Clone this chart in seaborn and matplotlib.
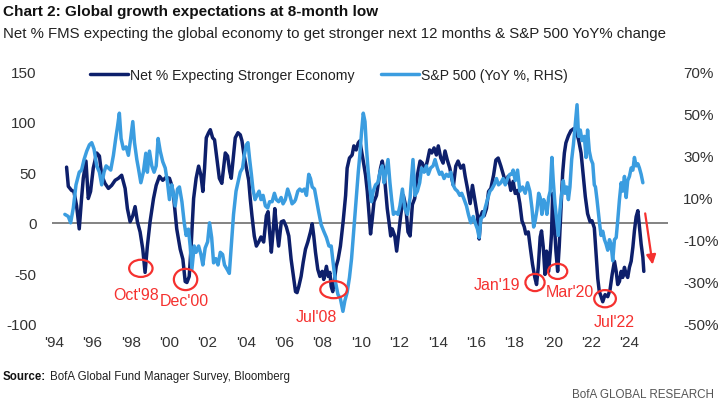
import pandas as pd
import matplotlib
matplotlib.use('Agg')
import matplotlib.pyplot as plt
import seaborn as sns
from matplotlib.patches import Ellipse

# Net % of FMS expecting a stronger global economy (left axis)
net_years = [1994.66, 1994.75, 1994.92, 1995.04, 1995.18, 1995.32, 1995.44, 1995.53, 1995.67, 1995.79,
             1995.91, 1996.05, 1996.23, 1996.37, 1996.49, 1996.66, 1996.84, 1997.01, 1997.19, 1997.36,
             1997.53, 1997.71, 1997.83, 1997.97, 1998.11, 1998.23, 1998.35, 1998.49, 1998.63, 1998.75,
             1998.87, 1999.01, 1999.19, 1999.33, 1999.50, 1999.67, 1999.85, 2000.02, 2000.14, 2000.23,
             2000.40, 2000.58, 2000.72, 2000.84, 2000.93, 2001.05, 2001.15, 2001.28, 2001.41, 2001.54,
             2001.66, 2001.76, 2001.85, 2001.94, 2002.06, 2002.15, 2002.27, 2002.37, 2002.49, 2002.62,
             2002.75, 2002.84, 2002.93, 2003.05, 2003.16, 2003.24, 2003.36, 2003.45, 2003.59, 2003.71,
             2003.80, 2003.89, 2004.03, 2004.15, 2004.23, 2004.32, 2004.44, 2004.55, 2004.67, 2004.79,
             2004.93, 2005.07, 2005.16, 2005.24, 2005.33, 2005.42, 2005.51, 2005.59, 2005.71, 2005.85,
             2005.97, 2006.11, 2006.24, 2006.36, 2006.50, 2006.59, 2006.67, 2006.76, 2006.88, 2006.99,
             2007.11, 2007.23, 2007.37, 2007.46, 2007.54, 2007.63, 2007.75, 2007.86, 2007.98, 2008.06,
             2008.20, 2008.29, 2008.38, 2008.45, 2008.53, 2008.62, 2008.71, 2008.81, 2008.93, 2009.07,
             2009.20, 2009.28, 2009.40, 2009.54, 2009.63, 2009.75, 2009.86, 2009.94, 2010.03, 2010.12,
             2010.24, 2010.33, 2010.41, 2010.50, 2010.59, 2010.68, 2010.81, 2010.94, 2011.02, 2011.11,
             2011.20, 2011.28, 2011.37, 2011.46, 2011.55, 2011.63, 2011.76, 2011.86, 2011.95, 2012.07,
             2012.21, 2012.33, 2012.45, 2012.56, 2012.68, 2012.80, 2012.94, 2013.08, 2013.20, 2013.32,
             2013.46, 2013.58, 2013.69, 2013.81, 2013.93, 2014.03, 2014.16, 2014.28, 2014.38, 2014.50,
             2014.63, 2014.73, 2014.82, 2014.94, 2015.06, 2015.20, 2015.34, 2015.43, 2015.55, 2015.69,
             2015.81, 2015.95, 2016.07, 2016.16, 2016.25, 2016.33, 2016.42, 2016.54, 2016.65, 2016.77,
             2016.91, 2017.03, 2017.15, 2017.29, 2017.43, 2017.55, 2017.67, 2017.81, 2017.93, 2018.04,
             2018.16, 2018.28, 2018.39, 2018.51, 2018.59, 2018.72, 2018.82, 2018.94, 2019.06, 2019.15,
             2019.24, 2019.34, 2019.41, 2019.50, 2019.59, 2019.67, 2019.78, 2019.87, 2019.93, 2019.99,
             2020.07, 2020.16, 2020.25, 2020.33, 2020.42, 2020.51, 2020.60, 2020.68, 2020.81, 2020.94,
             2021.08, 2021.20, 2021.34, 2021.47, 2021.59, 2021.69, 2021.81, 2021.94, 2022.04, 2022.16,
             2022.25, 2022.34, 2022.42, 2022.48, 2022.60, 2022.72, 2022.86, 2022.98, 2023.09, 2023.21,
             2023.30, 2023.38, 2023.47, 2023.56, 2023.64, 2023.73, 2023.82, 2023.90, 2023.99, 2024.08,
             2024.17, 2024.25, 2024.34, 2024.43, 2024.51, 2024.60, 2024.69, 2024.74]
net_vals = [55, 36, 32, 31, 17, -6, 24, 44, 61, 24,
            31, 54, 69, 66, 47, 39, 34, 37, 42, 44,
            47, 34, 14, 1, 7, 16, 1, -9, -26, -49,
            -23, 1, 24, 37, 46, 42, 45, 44, 37, 27,
            -6, -26, -36, -58, -59, -53, -23, 24, 44, 56,
            47, 31, 54, 84, 89, 92, 84, 82, 64, 44,
            39, 54, 69, 66, 51, 44, 67, 84, 89, 87,
            81, 69, 54, 42, 24, 7, -13, -23, -19, -14,
            -19, 7, 11, -9, -29, -9, 14, -3, -23, 1,
            2, -4, -13, -36, -55, -68, -69, -63, -53, -39,
            -26, -19, -9, -1, -13, -29, -46, -53, -48, -56,
            -43, -53, -49, -63, -68, -56, -43, -36, -23, 1,
            27, 54, 64, 67, 76, 72, 79, 81, 71, 61,
            47, 31, 11, -11, 4, 21, 27, 44, 54, 61,
            51, 34, 14, 1, -13, -6, -13, -28, -13, 7,
            27, 17, -9, -13, 18, 24, 47, 61, 59, 51,
            61, 72, 69, 74, 67, 76, 64, 59, 71, 62,
            54, 44, 37, 56, 61, 54, 57, 46, 34, 19,
            37, 21, 7, -16, 7, 11, 7, 14, 31, 34,
            47, 62, 64, 56, 47, 39, 46, 32, 41, 29,
            32, 19, 2, -4, -11, -9, -24, -41, -54, -61,
            -44, -14, -8, -24, -51, -28, -48, -28, -11, 29,
            2, -28, -48, -24, 12, 49, 69, 79, 86, 91,
            93, 92, 82, 69, 46, 26, 9, 1, 2, -5,
            -30, -55, -68, -71, -78, -71, -73, -66, -51, -38,
            -48, -61, -58, -48, -54, -44, -51, -54, -44, -38,
            -24, -8, 6, 12, -4, -21, -34, -48]

# S&P 500 YoY % change (right axis)
spx_years = [1994.57, 1994.75, 1994.87, 1995.01, 1995.15, 1995.32, 1995.44, 1995.57, 1995.71, 1995.85,
             1995.97, 1996.09, 1996.23, 1996.37, 1996.49, 1996.61, 1996.72, 1996.84, 1996.96, 1997.10,
             1997.22, 1997.32, 1997.41, 1997.50, 1997.62, 1997.76, 1997.88, 1998.00, 1998.11, 1998.20,
             1998.32, 1998.40, 1998.53, 1998.66, 1998.79, 1998.87, 1998.98, 1999.10, 1999.22, 1999.33,
             1999.43, 1999.54, 1999.67, 1999.80, 1999.92, 2000.02, 2000.14, 2000.20, 2000.32, 2000.44,
             2000.54, 2000.67, 2000.79, 2000.89, 2001.01, 2001.10, 2001.19, 2001.31, 2001.41, 2001.54,
             2001.66, 2001.76, 2001.88, 2002.01, 2002.11, 2002.22, 2002.32, 2002.44, 2002.55, 2002.67,
             2002.79, 2002.89, 2003.02, 2003.14, 2003.24, 2003.36, 2003.49, 2003.59, 2003.71, 2003.83,
             2003.92, 2004.03, 2004.11, 2004.20, 2004.29, 2004.37, 2004.48, 2004.58, 2004.69, 2004.79,
             2004.90, 2005.02, 2005.14, 2005.24, 2005.37, 2005.49, 2005.59, 2005.71, 2005.84, 2005.94,
             2006.06, 2006.18, 2006.29, 2006.41, 2006.53, 2006.59, 2006.71, 2006.81, 2006.93, 2007.05,
             2007.16, 2007.28, 2007.37, 2007.46, 2007.58, 2007.68, 2007.80, 2007.93, 2008.06, 2008.20,
             2008.33, 2008.45, 2008.55, 2008.67, 2008.80, 2008.93, 2009.06, 2009.16, 2009.28, 2009.40,
             2009.51, 2009.63, 2009.75, 2009.86, 2009.94, 2010.03, 2010.12, 2010.21, 2010.29, 2010.38,
             2010.47, 2010.55, 2010.64, 2010.76, 2010.88, 2010.99, 2011.11, 2011.20, 2011.28, 2011.41,
             2011.51, 2011.60, 2011.69, 2011.81, 2011.93, 2012.03, 2012.16, 2012.28, 2012.42, 2012.56,
             2012.71, 2012.82, 2012.94, 2013.06, 2013.16, 2013.29, 2013.41, 2013.51, 2013.63, 2013.76,
             2013.86, 2013.98, 2014.10, 2014.21, 2014.33, 2014.45, 2014.56, 2014.68, 2014.80, 2014.91,
             2015.03, 2015.15, 2015.25, 2015.38, 2015.50, 2015.60, 2015.72, 2015.85, 2015.95, 2016.07,
             2016.16, 2016.25, 2016.37, 2016.47, 2016.59, 2016.72, 2016.82, 2016.94, 2017.06, 2017.17,
             2017.29, 2017.41, 2017.52, 2017.64, 2017.76, 2017.86, 2017.93, 2018.04, 2018.16, 2018.28,
             2018.42, 2018.56, 2018.68, 2018.80, 2018.91, 2019.00, 2019.08, 2019.17, 2019.26, 2019.34,
             2019.43, 2019.52, 2019.60, 2019.69, 2019.78, 2019.86, 2019.95, 2020.02, 2020.11, 2020.20,
             2020.28, 2020.37, 2020.46, 2020.54, 2020.63, 2020.72, 2020.81, 2020.89, 2020.98, 2021.07,
             2021.15, 2021.26, 2021.34, 2021.43, 2021.52, 2021.64, 2021.73, 2021.81, 2021.90, 2021.99,
             2022.08, 2022.16, 2022.22, 2022.30, 2022.43, 2022.51, 2022.60, 2022.69, 2022.77, 2022.86,
             2022.95, 2023.03, 2023.12, 2023.21, 2023.30, 2023.38, 2023.47, 2023.56, 2023.64, 2023.73,
             2023.82, 2023.90, 2023.99, 2024.08, 2024.17, 2024.25, 2024.34, 2024.43, 2024.51, 2024.60,
             2024.69]
spx_vals = [2, 1, -2, 5, 16, 22, 23, 28, 32, 35,
            36, 33, 25, 22, 16, 22, 25, 24, 23, 30,
            38, 44, 50, 38, 33, 34, 30, 38, 46, 36,
            28, 24, 17, 22, 31, 22, 32, 25, 22, 25,
            38, 32, 27, 24, 17, 9, 16, 13, 6, 14,
            15, 8, -2, -8, -5, -13, -24, -13, -16, -13,
            -17, -22, -14, -11, -2, -9, -21, -19, -22, -16,
            -17, -22, -24, -26, -13, 2, 13, 17, 22, 24,
            30, 35, 36, 28, 21, 14, 9, 11, 13, 9,
            11, 6, 5, 8, 8, 12, 9, 8, 10, 7,
            9, 14, 11, 7, 8, 9, 13, 14, 13, 14,
            11, 21, 19, 15, 14, 9, 3, -3, -6, -9,
            -13, -13, -21, -30, -36, -38, -44, -39, -35, -28,
            -19, -5, 9, 22, 30, 41, 50, 46, 33, 22,
            14, 8, 13, 16, 17, 22, 25, 17, 21, 28,
            17, 9, 2, 3, 2, 6, 14, 5, 2, 10,
            28, 11, 13, 17, 24, 22, 25, 21, 24, 25,
            28, 24, 21, 22, 19, 21, 20, 22, 16, 14,
            13, 11, 12, 9, 6, 2, -2, 1, -2, -5,
            -9, 0, 1, 5, 9, 13, 14, 16, 19, 16,
            17, 19, 16, 19, 21, 21, 23, 18, 23, 13,
            15, 12, 17, 13, 5, -4, -1, 4, 12, 10,
            2, 9, 7, 2, 10, 13, 29, 18, 7, -1,
            -8, 4, 12, 18, 12, 15, 9, 15, 28, 35,
            43, 54, 39, 42, 37, 39, 29, 42, 32, 28,
            26, 16, 15, 9, -2, -8, -6, -10, -12, -15,
            -10, -12, -20, -10, -9, -1, 9, 17, 13, 20,
            10, 18, 20, 24, 23, 29, 25, 26, 24, 21,
            17]

year_ticks = list(range(1994, 2025, 2))
year_labels = ["'" + str(y)[2:] for y in year_ticks]
left_ticks = [-100, -50, 0, 50, 100, 150]
right_ticks = [-50, -30, -10, 10, 30, 50, 70]

# lows that are circled, and where their labels sit
low_labels = ["Oct'98", "Dec'00", "Jul'08", "Jan'19", "Mar'20", "Jul'22"]
low_x = [1998.53, 2000.86, 2008.58, 2019.07, 2020.25, 2022.72]
low_y = [-45, -56, -66, -59, -48, -75]
low_w = [1.22, 1.22, 1.4, 1.0, 1.0, 1.13]
low_h = [17, 21, 17, 17, 15, 17]
label_x = [1998.28, 2000.77, 2007.67, 2017.08, 2020.89, 2023.19]
label_y = [-71, -77, -93, -61, -68, -98]

NAVY = '#0d1f6b'
SKY = '#3b9de0'
RED = '#f5312f'

sns.set_style('white')
plt.rcParams['font.family'] = ['Liberation Sans', 'DejaVu Sans']

net = pd.DataFrame({'year': net_years, 'val': net_vals})
spx = pd.DataFrame({'year': spx_years, 'val': spx_vals})

W, H = 723, 406
fig = plt.figure(figsize=(W / 100, H / 100), dpi=100)
ax = fig.add_axes([52 / W, 1 - 325 / H, 616 / W, 253 / H])
ax2 = ax.twinx()

sns.lineplot(data=net, x='year', y='val', ax=ax, color=NAVY, lw=2.5,
             label='Net % Expecting Stronger Economy', legend=False)
sns.lineplot(data=spx, x='year', y='val', ax=ax2, color=SKY, lw=2.5,
             label='S&P 500 (YoY %, RHS)', legend=False)
ax.axhline(0, color='#7a7a7a', lw=1.3, zorder=0)

ax.set_xlim(1993.9, 2026.0)
ax.set_ylim(-100, 150)
ax2.set_ylim(-49.5, 70)

ax.set_xticks(year_ticks, labels=year_labels)
ax.set_yticks(left_ticks, labels=[str(v) for v in left_ticks])
ax2.set_yticks(right_ticks, labels=[f'{v}%' for v in right_ticks])
ax.set_xlabel('')
ax.set_ylabel('')
ax2.set_ylabel('')
ax.tick_params(axis='x', length=0, pad=8, labelsize=11, labelcolor='#333333')
ax.tick_params(axis='y', length=0, pad=11, labelsize=11, labelcolor='#333333')
ax2.tick_params(axis='y', length=0, pad=11, labelsize=11, labelcolor='#333333')
for a in (ax, ax2):
    for s in a.spines.values():
        s.set_visible(False)
    a.grid(False)

for i in range(len(low_labels)):
    ax2.add_patch(Ellipse((low_x[i], low_y[i]), low_w[i], low_h[i], transform=ax.transData,
                          fill=False, ec=RED, lw=1.6, clip_on=False, zorder=5))
    ax2.text(label_x[i], label_y[i], low_labels[i], transform=ax.transData, color=RED,
             fontsize=11.5, ha='center', va='center', zorder=5)

ax2.annotate('', xy=(2025.22, -44), xytext=(2024.79, 12), xycoords=ax.transData,
             textcoords=ax.transData,
             arrowprops=dict(arrowstyle='-|>', color=RED, lw=1.6, mutation_scale=14))

h1 = ax.get_lines()[0]
h2 = ax2.get_lines()[0]
ax2.legend([h1, h2], [h1.get_label(), h2.get_label()], loc='center left',
           bbox_to_anchor=(0.062, 0.984), ncol=2, frameon=False, fontsize=10.1,
           handlelength=2.7, handletextpad=0.15, columnspacing=1.9,
           borderpad=0, borderaxespad=0, labelcolor='#222222')

fig.text(3 / W, 1 - 12 / H, 'Chart 2: Global growth expectations at 8-month low',
         fontsize=11, fontweight='bold', va='center', color='#111111')
fig.text(3 / W, 1 - 34 / H,
         'Net % FMS expecting the global economy to get stronger next 12 months & S&P 500 YoY% change',
         fontsize=10.8, va='center', color='#222222')
src = fig.text(3 / W, 1 - 377 / H, 'Source:', fontsize=8.3, fontweight='bold',
               va='center', color='#111111')
plt.annotate('BofA Global Fund Manager Survey, Bloomberg', xy=(1, 0.5), xycoords=src,
             xytext=(3, 0), textcoords='offset points',
             va='center', ha='left', fontsize=8.3, color='#222222', annotation_clip=False)
fig.text(714 / W, 1 - 395 / H, 'BofA GLOBAL RESEARCH', fontsize=8.4, ha='right',
         va='center', color='#555555')

fig.savefig('out.png', dpi=100)
